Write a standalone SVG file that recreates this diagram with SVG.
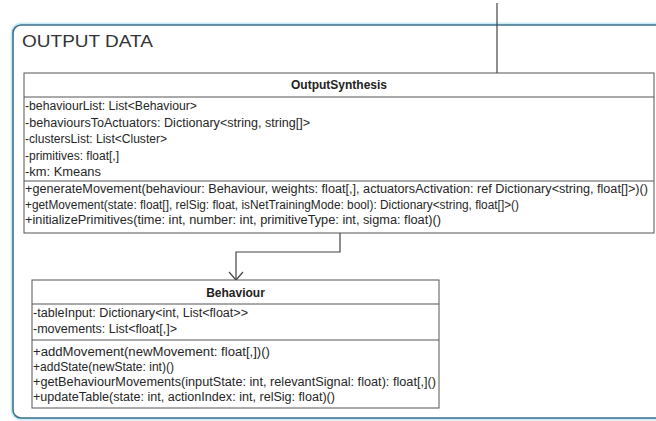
<svg xmlns="http://www.w3.org/2000/svg" width="656" height="421" viewBox="0 0 656 421">
  <style>
    .frame-glow { fill: none; stroke: #c9ecf6; stroke-width: 5; }
    .frame { fill: #ffffff; stroke: #3e6f8c; stroke-width: 1.6; }
    .box { fill: #ffffff; stroke: #555555; stroke-width: 1; }
    .sep { stroke: #555555; stroke-width: 1; }
    .title { font-family: "Liberation Sans", Arial, sans-serif; font-size: 17px; fill: #333333; }
    .name { font-family: "Liberation Sans", Arial, sans-serif; font-size: 12px; font-weight: bold; fill: #222222; text-anchor: middle; }
    .member { font-family: "Liberation Sans", Arial, sans-serif; font-size: 12px; fill: #262626; }
    .conn { fill: none; stroke: #444444; stroke-width: 1.2; }
  </style>
  <defs>
    <marker id="open-arrow" markerWidth="12" markerHeight="16" refX="9" refY="7.5" orient="auto" markerUnits="userSpaceOnUse">
      <path d="M1,0.5 L9,7.5 L1,14.5" fill="none" stroke="#444444" stroke-width="1.2"/>
    </marker>
  </defs>

  <rect width="656" height="421" fill="#ffffff"/>

  <!-- package frame -->
  <g id="package-output-data">
    <rect class="frame-glow" x="13" y="25" width="670" height="393" rx="8"/>
    <rect class="frame" x="13" y="25" width="670" height="393" rx="8"/>
    <text class="title" x="22" y="47" textLength="131" lengthAdjust="spacingAndGlyphs">OUTPUT DATA</text>
  </g>

  <!-- connectors -->
  <g id="connectors">
    <line class="conn" x1="497" y1="3" x2="497" y2="73"/>
    <polyline class="conn" points="340,233 340,252 236,252 236,280" marker-end="url(#open-arrow)"/>
  </g>

  <!-- OutputSynthesis class -->
  <g id="node-outputsynthesis">
    <rect class="box" x="24" y="73" width="630" height="160"/>
    <line class="sep" x1="24" y1="97" x2="654" y2="97"/>
    <line class="sep" x1="24" y1="181" x2="654" y2="181"/>
    <text class="name" x="339" y="89">OutputSynthesis</text>
    <text class="member" x="25" y="110" textLength="172" lengthAdjust="spacingAndGlyphs">-behaviourList: List&lt;Behaviour&gt;</text>
    <text class="member" x="25" y="126.5" textLength="285" lengthAdjust="spacingAndGlyphs">-behavioursToActuators: Dictionary&lt;string, string[]&gt;</text>
    <text class="member" x="25" y="143" textLength="142" lengthAdjust="spacingAndGlyphs">-clustersList: List&lt;Cluster&gt;</text>
    <text class="member" x="25" y="159.5" textLength="94" lengthAdjust="spacingAndGlyphs">-primitives: float[,]</text>
    <text class="member" x="25" y="175.5" textLength="76" lengthAdjust="spacingAndGlyphs">-km: Kmeans</text>
    <text class="member" x="25" y="193" textLength="623" lengthAdjust="spacingAndGlyphs">+generateMovement(behaviour: Behaviour, weights: float[,], actuatorsActivation: ref Dictionary&lt;string, float[]&gt;)()</text>
    <text class="member" x="25" y="208.5" textLength="494" lengthAdjust="spacingAndGlyphs">+getMovement(state: float[], relSig: float, isNetTrainingMode: bool): Dictionary&lt;string, float[]&gt;()</text>
    <text class="member" x="25" y="224" textLength="416" lengthAdjust="spacingAndGlyphs">+initializePrimitives(time: int, number: int, primitiveType: int, sigma: float)()</text>
  </g>

  <!-- Behaviour class -->
  <g id="node-behaviour">
    <rect class="box" x="32" y="280" width="407" height="128"/>
    <line class="sep" x1="32" y1="304" x2="439" y2="304"/>
    <line class="sep" x1="32" y1="340" x2="439" y2="340"/>
    <text class="name" x="235.5" y="296.5">Behaviour</text>
    <text class="member" x="33" y="317" textLength="215" lengthAdjust="spacingAndGlyphs">-tableInput: Dictionary&lt;int, List&lt;float&gt;&gt;</text>
    <text class="member" x="33" y="332.5" textLength="144" lengthAdjust="spacingAndGlyphs">-movements: List&lt;float[,]&gt;</text>
    <text class="member" x="33" y="356" textLength="237" lengthAdjust="spacingAndGlyphs">+addMovement(newMovement: float[,])()</text>
    <text class="member" x="33" y="371" textLength="141" lengthAdjust="spacingAndGlyphs">+addState(newState: int)()</text>
    <text class="member" x="33" y="386" textLength="403" lengthAdjust="spacingAndGlyphs">+getBehaviourMovements(inputState: int, relevantSignal: float): float[,]()</text>
    <text class="member" x="33" y="401" textLength="302" lengthAdjust="spacingAndGlyphs">+updateTable(state: int, actionIndex: int, relSig: float)()</text>
  </g>
</svg>
